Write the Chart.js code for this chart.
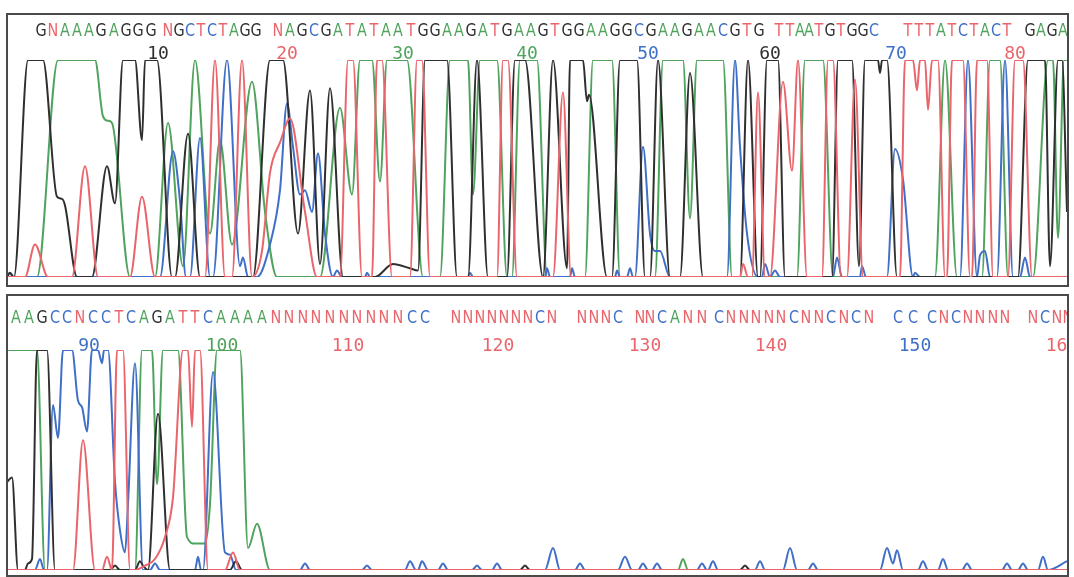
<!DOCTYPE html>
<html><head><meta charset="utf-8">
<script src="https://cdn.jsdelivr.net/npm/chart.js@4.4.1/dist/chart.umd.min.js"></script>
<style>
html,body{margin:0;padding:0;background:#fff;width:1074px;height:577px;overflow:hidden;}
.cv{position:absolute;left:0;}
.box{position:absolute;border:2px solid #4a4a4a;box-sizing:border-box;pointer-events:none;}
</style></head><body>
<div style="position:absolute;left:0;top:0;width:1074px;height:290px"><canvas id="c1" class="cv"></canvas></div>
<div style="position:absolute;left:0;top:290px;width:1074px;height:287px"><canvas id="c2" class="cv"></canvas></div>
<div class="box" style="left:6px;top:13px;width:1063px;height:274px"></div>
<div class="box" style="left:6px;top:294px;width:1063px;height:283px"></div>
<script>
// ---------- sequence (base calls) ----------
const topBases = "GNAAAGAGGGNGCTCTAGGNAGCGATATAATGGAAGATGAAGTGGAAGGCGAAGAACGTGTTAATGTGGCTTTATCTACTGAGA";
const topBaseX = [41,53,65,77,89,101,114,126,138,151,
  168,179,190,201,212,223,234,245,256,278,
  290,302,314,326,338,350,362,374,386,398,
  411,423,435,447,459,471,483,495,507,519,
  531,543,555,567,579,591,603,615,627,639,
  651,663,675,687,699,711,723,735,747,759,
  779,790,800,809,819,830,841,852,863,874,
  908,919,930,941,952,963,974,985,996,1007,
  1030,1041,1052,1063];
const topTickNums = [10,20,30,40,50,60,70,80];
const topTickX = [158,287,403,527,648,770,896,1015];

const botBases = "AAGCCNCCTCAGATTCAAAANNNNNNNNNNCCNNNNNNNCNNNNCNNCANNCNNNNNCNNCNCNCCCNCNNNNNCNN";
const botBaseX = [16,29,42,55,67,80,93,106,119,131,144,157,170,183,195,208,221,
  235,248,262,276,289,303,316,330,344,357,371,384,398,412,425,
  456,468,480,492,504,516,528,540,552,
  582,594,606,618,
  640,650,662,675,688,702,
  719,731,744,756,769,781,794,806,819,831,844,856,869,
  898,913,
  932,944,956,968,980,993,1005,
  1033,1045,1057,1068];
const botFirst = 84;
const botTickNums = [90,100,110,120,130,140,150,160];
const botTickX = [89,222,348,498,645,771,915,1062];

// ---------- traces: [x, signal] (signal 0..100, 100 = clipped) ----------
const topG = [[7,0],[10,2],[13,0],[14,0],[28,100],[43,100],[57,37],[62,36],[65,33],[77,0],
  [92,0],[107,51],[115,34],[123,100],[135,100],[142,63],[145,100],[157,100],[172,0],
  [175,0],[188,66],[200,0],[253,0],[270,100],[283,100],[298,20],[310,86],[320,6],[330,87],[343,0],
  [375,0],[393,6],[410,4],[418,3],[425,100],[447,100],[457,0],[468,0],[477,100],[488,0],
  [507,0],[515,100],[525,100],[543,0],[553,100],[567,4],[570,100],[583,100],[587,81],[589,84],[607,0],
  [612,0],[620,100],[637,100],[645,0],[650,0],[658,100],[670,0],[680,0],[690,94],[703,0],
  [740,0],[748,100],[758,0],[760,0],[767,100],[778,100],[785,0],
  [832,0],[838,100],[852,100],[859,5],[865,100],[878,100],[880,94],[882,100],[887,100],[897,0],
  [1018,0],[1028,100],[1045,100],[1050,5],[1058,100],[1062,100],[1067,30]];
const topA = [[7,0],[37,0],[58,100],[95,100],[103,74],[108,72],[112,71],[130,0],
  [155,0],[168,71],[183,5],[195,100],[210,20],[220,63],[232,15],[252,90],[265,30],[277,0],
  [320,0],[340,78],[352,38],[360,100],[372,100],[380,44],[387,100],[407,100],[423,0],
  [440,0],[450,100],[468,100],[473,38],[480,100],[497,100],[507,0],
  [512,0],[520,100],[537,100],[547,0],[585,0],[593,100],[612,100],[620,0],
  [655,0],[663,100],[683,100],[690,27],[697,100],[723,100],[732,0],
  [797,0],[805,100],[823,100],[833,0],[935,0],[945,100],[957,0],
  [982,0],[990,100],[1000,100],[1008,0],[1033,0],[1048,100],[1053,100],[1058,18],[1064,100],[1067,100]];
const topT = [[7,0],[25,0],[35,15],[48,0],[72,0],[85,51],[98,0],[130,0],[142,37],[155,0],
  [205,0],[215,100],[225,0],[232,0],[242,100],[252,0],[262,12],[270,48],[280,62],[290,73],[305,30],[317,0],
  [340,0],[348,100],[353,100],[362,0],[372,0],[377,100],[382,100],[392,0],
  [410,0],[417,100],[422,100],[430,0],[497,0],[503,100],[508,100],[517,0],
  [553,0],[563,85],[571,0],[740,0],[743,6],[748,0],[752,0],[758,85],[765,0],
  [770,0],[783,90],[792,49],[798,100],[807,0],[822,0],[828,100],[833,100],[841,0],[847,0],[855,91],[863,0],
  [900,0],[905,100],[913,100],[917,86],[920,100],[925,100],[928,77],[932,100],[938,100],[945,0],
  [947,0],[952,100],[963,100],[970,0],[972,0],[977,100],[987,100],[993,0],
  [1008,0],[1015,100],[1023,100],[1032,0],[1067,0]];
const topC = [[7,0],[10,2],[14,0],[160,0],[173,58],[180,35],[186,0],[190,0],[200,64],[210,0],
  [213,0],[227,100],[240,5],[243,9],[248,0],[257,0],[270,15],[280,40],[287,80],[293,60],[300,38],
  [305,40],[312,30],[318,57],[325,20],[333,0],[337,3],[342,0],
  [365,0],[367,2],[370,0],[468,0],[470,2],[473,0],[545,0],[547,4],[550,0],[570,0],[572,4],[575,0],
  [615,0],[617,3],[620,0],[627,0],[630,4],[633,0],[635,0],[643,60],[650,20],[655,12],[660,12],[670,0],
  [727,0],[735,100],[740,60],[747,20],[758,0],[762,0],[765,6],[770,0],[775,3],[780,0],
  [833,0],[837,9],[842,0],[860,0],[862,5],[866,0],[887,0],[895,59],[903,45],[913,0],[915,2],[920,0],
  [960,0],[968,100],[977,0],[980,10],[985,12],[990,0],[997,0],[1005,100],[1013,0],
  [1020,0],[1025,9],[1030,0],[1067,0]];

const botG = [[7,40],[12,42],[18,0],[25,0],[28,3],[32,5],[37,100],[47,100],[55,0],
  [110,0],[115,2],[120,0],[135,0],[140,4],[143,2],[148,0],[158,71],[170,0],
  [230,0],[236,4],[242,0],[520,0],[525,2],[530,0],[740,0],[745,2],[750,0],[1067,0]];
const botA = [[7,100],[37,100],[45,0],[135,0],[142,100],[152,100],[157,39],[163,100],[178,100],
  [187,15],[195,12],[205,12],[210,30],[217,100],[240,100],[248,10],[257,21],[270,0],
  [678,0],[683,5],[688,0],[1067,0]];
const botC = [[7,0],[35,0],[40,5],[44,0],[47,0],[53,75],[58,60],[63,100],[72,100],[78,77],[82,74],
  [87,63],[92,100],[98,100],[102,94],[104,100],[108,100],[115,40],[120,18],[125,8],[128,30],[135,94],
  [143,0],[150,0],[155,3],[160,0],[195,0],[198,6],[201,0],[203,0],[213,90],[225,8],[230,7],[236,0],
  [300,0],[305,3],[310,0],[362,0],[367,2],[372,0],[405,0],[410,4],[416,0],[418,0],[422,4],[428,0],
  [438,0],[443,3],[448,0],[472,0],[477,2],[482,0],[492,0],[497,3],[502,0],[545,0],[553,10],[560,0],
  [575,0],[580,3],[585,0],[618,0],[625,6],[632,0],[638,0],[643,3],[648,0],[652,0],[657,3],[662,0],
  [697,0],[702,3],[707,0],[708,0],[713,4],[718,0],[755,0],[760,4],[765,0],[783,0],[790,10],[797,0],
  [808,0],[813,3],[818,0],[880,0],[887,10],[893,3],[897,9],[903,0],[918,0],[923,4],[928,0],
  [938,0],[943,5],[948,0],[962,0],[967,3],[972,0],[1002,0],[1007,3],[1012,0],[1018,0],[1023,3],[1028,0],
  [1038,0],[1043,6],[1048,0],[1067,4]];
const botT = [[7,0],[73,0],[83,59],[95,0],[102,0],[107,6],[112,0],[117,100],[123,100],[130,0],
  [135,0],[145,2],[155,5],[165,15],[173,33],[183,100],[188,100],[192,65],[195,100],[200,100],[208,0],
  [225,0],[233,8],[240,0],[1067,0]];

// ---------- styling ----------
const COL = {A:'#4fa35c', C:'#3f6fc6', G:'#2f2f2f', T:'#e9656b', N:'#e9656b'};

const seqPlugin = {
  id:'seq',
  afterDraw(chart, args, o){
    const ctx = chart.ctx, xs = chart.scales.x;
    ctx.save();
    ctx.beginPath(); ctx.rect(7, 0, 1060, chart.height); ctx.clip();
    ctx.textAlign='center'; ctx.textBaseline='middle';
    o.bases.split('').forEach((b,i)=>{
      const px = xs.getPixelForValue(o.baseX[i]);
      ctx.save(); ctx.translate(px, o.letterY); ctx.scale(0.8,1);
      ctx.fillStyle = COL[b]; ctx.font = '18px "DejaVu Sans"';
      ctx.fillText(b, 0, 0); ctx.restore();
    });
    ctx.font = '18px "DejaVu Sans Mono"';
    o.ticks.forEach((n,i)=>{
      const b = o.bases[n - o.first] || 'N';
      ctx.fillStyle = COL[b];
      ctx.fillText(String(n), xs.getPixelForValue(o.tickX[i]), o.tickY);
    });
    ctx.restore();
  }
};

function ds(arr, color, order){
  return {data: arr.map(p=>({x:p[0], y:p[1]})), borderColor: color, borderWidth: 2,
    pointRadius: 0, fill: false, cubicInterpolationMode: 'monotone', order: order};
}
function make(id, h, padTop, padBot, sets, seq){
  const cv = document.getElementById(id);
  cv.width = 1074; cv.height = h; cv.style.width='1074px'; cv.style.height=h+'px';
  return new Chart(cv, {
    type:'line',
    data:{datasets: sets},
    options:{
      responsive:false, animation:false, events:[],
      layout:{padding:{left:7, right:7, top:padTop, bottom:padBot}},
      scales:{
        x:{type:'linear', min:7, max:1067, display:false},
        y:{min:0, max:100, display:false}
      },
      plugins:{legend:{display:false}, tooltip:{enabled:false}, seq: seq}
    },
    plugins:[seqPlugin]
  });
}
make('c1', 290, 60, 13,
  [ds(topT, COL.T, 1), ds(topG, COL.G, 2), ds(topC, COL.C, 3), ds(topA, COL.A, 4)],
  {bases: topBases, baseX: topBaseX, first: 1, ticks: topTickNums, tickX: topTickX, letterY: 31, tickY: 54});
make('c2', 287, 60, 7,
  [ds(botT, COL.T, 1), ds(botG, COL.G, 2), ds(botC, COL.C, 3), ds(botA, COL.A, 4)],
  {bases: botBases, baseX: botBaseX, first: botFirst, ticks: botTickNums, tickX: botTickX, letterY: 28, tickY: 56});
</script>
</body></html>
